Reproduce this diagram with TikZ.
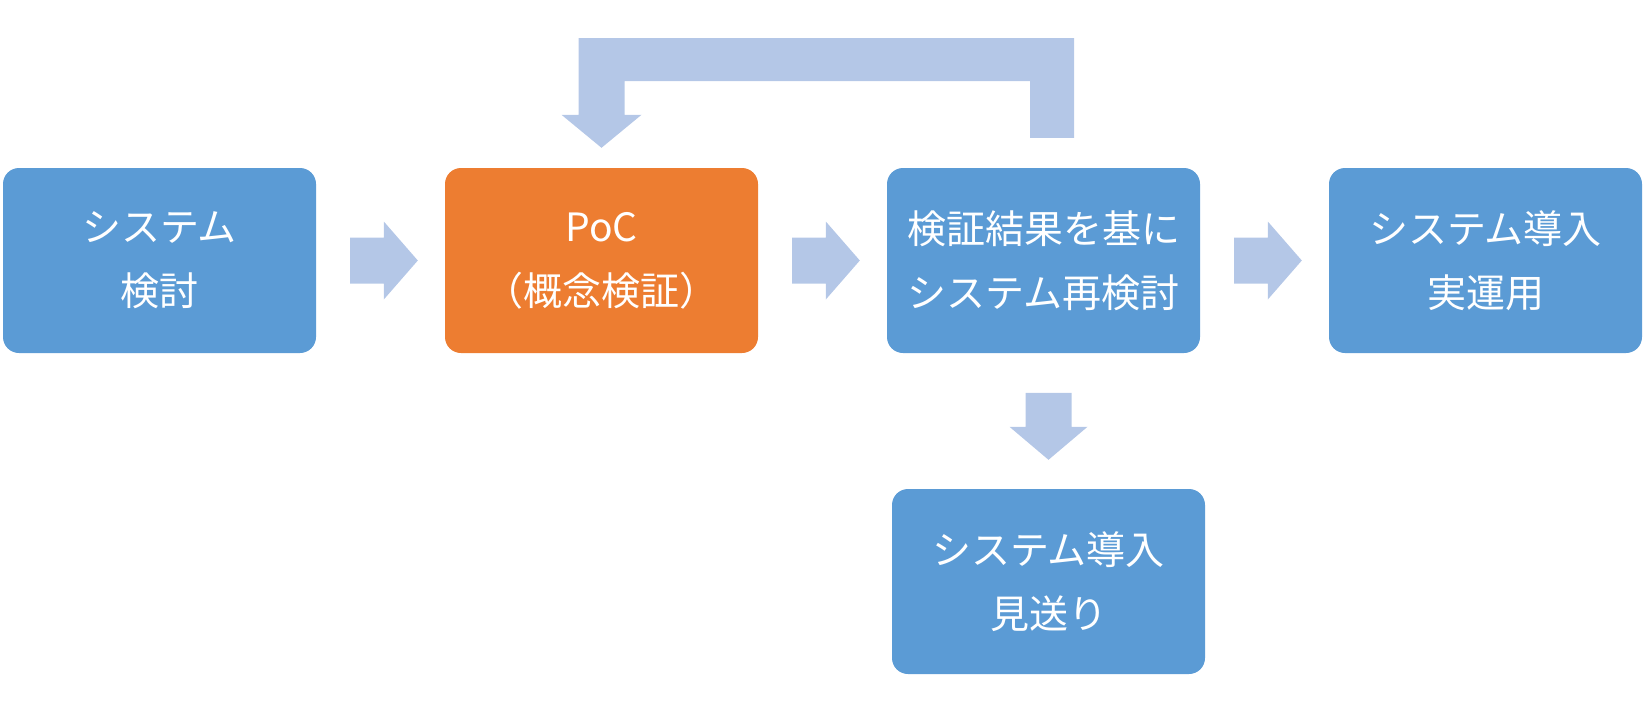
\documentclass[tikz,border=0pt]{standalone}
\usepackage{fontspec}
\setmainfont{Noto Sans CJK JP}
\usetikzlibrary{calc}
\usepackage{xcolor}
\definecolor{boxblue}{HTML}{5B9BD5}
\definecolor{boxorange}{HTML}{ED7D31}
\definecolor{arrowblue}{HTML}{B4C7E7}

\begin{document}
\begin{tikzpicture}[x=1pt,y=-1pt,
        stage/.style={rectangle, rounded corners=16pt, fill=boxblue, text=white,
            minimum width=313pt, minimum height=185pt, align=center,
            font=\fontsize{39}{64}\selectfont},
        blockarrow/.style={fill=arrowblue}]
        \useasboundingbox (0,0) rectangle (1644,705);

        % Main row of stages
        \node[stage] (sys) at (159.5,260.5) {システム\\検討};
        \node[stage, fill=boxorange] (poc) at (601.5,260.5) {PoC\\（概念検証）};
        \node[stage] (rev) at (1043.5,260.5) {検証結果を基に\\システム再検討};
        \node[stage] (impl) at (1485.5,260.5) {システム導入\\実運用};

        % Branch below the review stage
        \node[stage] (skip) at (1048.5,581.5) {システム導入\\見送り};

        % Block arrows between the stages of the main row
        \foreach \a/\b in {sys/poc, poc/rev, rev/impl} {
            \coordinate (s) at ($(\a.east)+(34,0)$);
            \coordinate (t) at ($(\b.west)+(-27,0)$);
            \coordinate (h) at ($(t)+(-34,0)$);
            \fill[blockarrow] ($(s)+(0,-23)$) -- ($(h)+(0,-23)$) -- ($(h)+(0,-39)$) -- (t)
                -- ($(h)+(0,39)$) -- ($(h)+(0,23)$) -- ($(s)+(0,23)$) -- cycle;
        }

        % Down arrow to the branch
        \coordinate (dt) at ($(skip.north)+(0,-29)$);
        \coordinate (dh) at ($(dt)+(0,-33)$);
        \coordinate (ds) at ($(dh)+(0,-34)$);
        \fill[blockarrow] ($(ds)+(-23,0)$) -- ($(dh)+(-23,0)$) -- ($(dh)+(-39,0)$) -- (dt)
            -- ($(dh)+(39,0)$) -- ($(dh)+(23,0)$) -- ($(ds)+(23,0)$) -- cycle;

        % Loop back from the review stage to the PoC
        \coordinate (lt) at ($(poc.north)+(0,-20)$);
        \coordinate (lh) at ($(lt)+(0,-33)$);
        \coordinate (lr) at ($(rev.north)+(8.5,-30)$);
        \coordinate (rr) at ($(lr)+(22,0)$);
        \coordinate (rl) at ($(lr)+(-22,0)$);
        \coordinate (ll) at ($(lh)+(-23,0)$);
        \coordinate (lrr) at ($(lh)+(23,0)$);
        \coordinate (bartop) at (0,38);
        \coordinate (barbot) at (0,81);
        \fill[blockarrow] (rr) -- (rr |- bartop) -- (ll |- bartop) -- (ll) -- ($(lh)+(-40,0)$)
            -- (lt) -- ($(lh)+(40,0)$) -- (lrr) -- (lrr |- barbot) -- (rl |- barbot) -- (rl) -- cycle;

    \end{tikzpicture}
\end{document}
